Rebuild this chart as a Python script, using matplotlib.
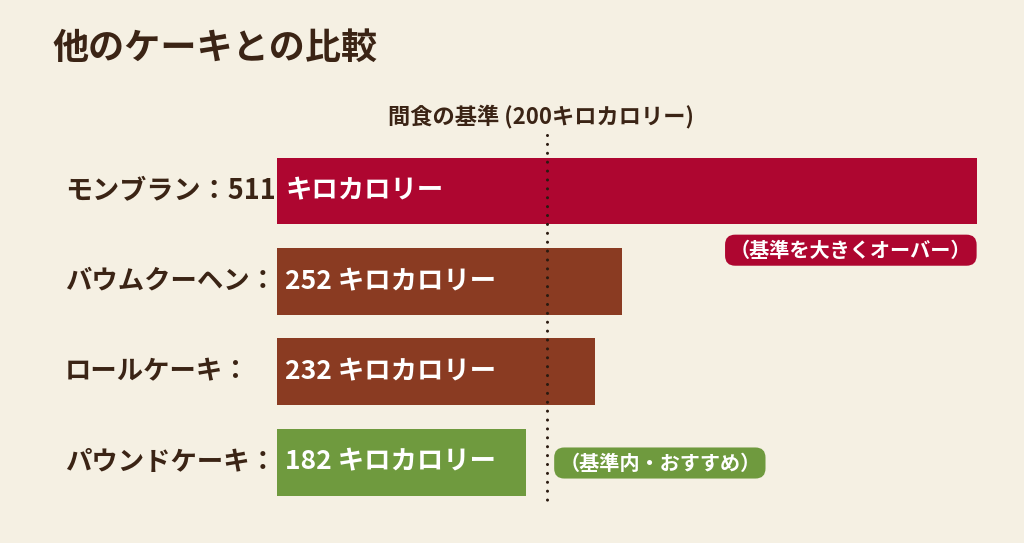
import matplotlib
matplotlib.use('Agg')
import matplotlib.pyplot as plt
from matplotlib.transforms import blended_transform_factory

# data
cakes = ['モンブラン', 'バウムクーヘン', 'ロールケーキ', 'パウンドケーキ']
kcal = [511, 252, 232, 182]
bar_colors = ['#ae0630', '#8a3b22', '#8a3b22', '#6f9a3e']
baseline = 200

plt.rcParams['font.family'] = ['Noto Sans CJK JP', 'DejaVu Sans']
plt.rcParams['font.weight'] = 'bold'

bg = '#f5f0e3'
dark = '#3b2415'

fig = plt.figure(figsize=(10.24, 5.43), dpi=100, facecolor=bg)
ax = fig.add_axes([277 / 1024, 33 / 543, 723 / 1024, 380 / 543])
ax.set_facecolor(bg)
ax.set_xlim(0, 723 / 1.37)
ax.set_ylim(3.53, -0.675)
ax.axis('off')

ypos = list(range(len(cakes)))
ax.barh(ypos, kcal, height=0.74, color=bar_colors, zorder=2)

# dotted baseline
ax.vlines(baseline - 3, -0.62, 3.5, colors='#2a1a10', linewidth=2.2,
          linestyles=(0, (0.01, 2.9)), capstyle='round', zorder=4)
ax.text(baseline - 7, -0.82, '間食の基準 (200キロカロリー)', ha='center', va='center',
        fontsize=16, color=dark, fontweight='bold')

lab_tr = blended_transform_factory(fig.transFigure, ax.transData)
for i, (name, val) in enumerate(zip(cakes, kcal)):
    if i == 0:
        ax.text(65 / 1024, i, f'{name}：{val}', transform=lab_tr, ha='left', va='center',
                fontsize=19.5, color=dark, fontweight='bold')
        ax.text(6, i, 'キロカロリー', ha='left', va='center', fontsize=19,
                color='white', fontweight='bold', zorder=5)
    else:
        ax.text(65 / 1024, i, f'{name}：', transform=lab_tr, ha='left', va='center',
                fontsize=19, color=dark, fontweight='bold')
        ax.text(6, i, f'{val} キロカロリー', ha='left', va='center', fontsize=19,
                color='white', fontweight='bold', zorder=5)

ax.text(kcal[0] - 4, 0.655, '（基準を大きくオーバー）', ha='right', va='center',
        fontsize=14.5, color='white', fontweight='bold',
        bbox=dict(boxstyle='round,pad=0.25,rounding_size=0.5', fc=bar_colors[0], ec='none'))
ax.text(206, 3.01, '（基準内・おすすめ）', ha='left', va='center',
        fontsize=14.5, color='white', fontweight='bold',
        bbox=dict(boxstyle='round,pad=0.25,rounding_size=0.5', fc=bar_colors[3], ec='none'))

fig.text(52 / 1024, 1 - 48 / 543, '他のケーキとの比較', ha='left', va='center',
         fontsize=26, color=dark, fontweight='bold')

fig.savefig('out.png', dpi=100, facecolor=bg)
